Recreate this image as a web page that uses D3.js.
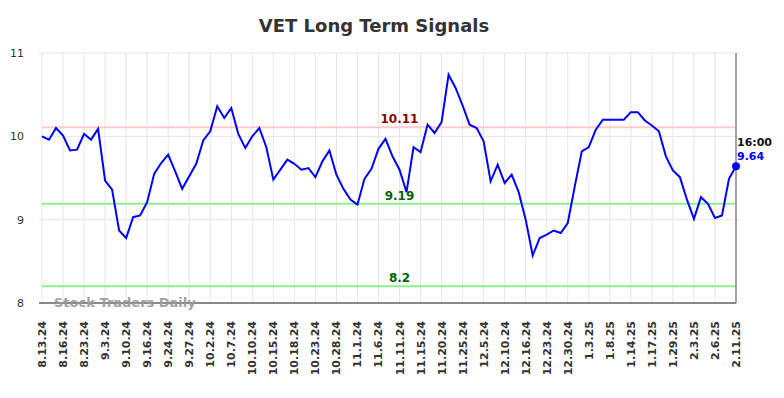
<!DOCTYPE html>
<html lang="en">
<head>
<meta charset="utf-8">
<style>
  body { margin: 0; background: white; }
  svg { font-family: 'DejaVu Sans', sans-serif; }
  .grid line { stroke: #e6e6e6; stroke-width: 1px; }
  .xlab { font-size: 11px; font-weight: bold; fill: #333; }
  .ylab { font-size: 11px; fill: #333; }
</style>
</head>
<body>
<svg width="784" height="398"></svg>
<script src="https://d3js.org/d3.v7.min.js"></script>
<script>
// tick labels, one every third session
const tickLabels = ["8.13.24", "8.16.24", "8.23.24", "9.3.24", "9.10.24", "9.16.24", "9.24.24",
  "9.27.24", "10.2.24", "10.7.24", "10.10.24", "10.15.24", "10.18.24", "10.23.24", "10.28.24",
  "11.1.24", "11.6.24", "11.11.24", "11.15.24", "11.20.24", "11.25.24", "12.5.24", "12.10.24",
  "12.16.24", "12.23.24", "12.30.24", "1.3.25", "1.8.25", "1.14.25", "1.17.25", "1.29.25",
  "2.3.25", "2.6.25", "2.11.25"];

// closing values
const prices = [
  10.00, 9.96, 10.10, 10.01, 9.83, 9.84, 10.03, 9.96, 10.09, 9.47,
  9.36, 8.87, 8.78, 9.03, 9.05, 9.21, 9.55, 9.68, 9.78, 9.58,
  9.37, 9.52, 9.67, 9.95, 10.06, 10.36, 10.22, 10.34, 10.03, 9.86,
  10.00, 10.10, 9.87, 9.48, 9.60, 9.72, 9.67, 9.60, 9.62, 9.51,
  9.70, 9.83, 9.54, 9.37, 9.24, 9.18, 9.49, 9.61, 9.85, 9.97,
  9.76, 9.60, 9.33, 9.87, 9.81, 10.14, 10.04, 10.17, 10.74, 10.58,
  10.37, 10.14, 10.10, 9.94, 9.46, 9.66, 9.44, 9.54, 9.33, 9.00,
  8.57, 8.78, 8.82, 8.87, 8.84, 8.96, 9.40, 9.82, 9.87, 10.08,
  10.20, 10.20, 10.20, 10.20, 10.29, 10.29, 10.19, 10.13, 10.06, 9.76,
  9.59, 9.51, 9.24, 9.01, 9.27, 9.19, 9.02, 9.05, 9.49, 9.64];

const yTicks = [8, 9, 10, 11];
const resistance = [10.11];
const supports = [9.19, 8.2];
const lastTime = "16:00";

const margin = {top: 53, right: 48, bottom: 95, left: 42},
  width = 784 - margin.left - margin.right,
  height = 398 - margin.top - margin.bottom;

const svg = d3.select("svg");

svg.append("text")
  .attr("x", 374).attr("y", 32)
  .attr("text-anchor", "middle")
  .style("font-size", "18px").style("font-weight", "bold").style("fill", "#333")
  .text("VET Long Term Signals");

const g = svg.append("g").attr("transform", `translate(${margin.left},${margin.top})`);

const x = d3.scaleLinear().domain([0, prices.length - 1]).range([0, width]);
const y = d3.scaleLinear().domain([8, 11]).range([height, 0]);
const tickIdx = tickLabels.map((d, i) => i * 3);

// grid
const grid = g.append("g").attr("class", "grid");
grid.selectAll(".v").data(tickIdx).join("line")
  .attr("x1", d => x(d)).attr("x2", d => x(d))
  .attr("y1", 0).attr("y2", height);
grid.selectAll(".h").data(yTicks).join("line")
  .attr("x1", -3).attr("x2", width + 3)
  .attr("y1", d => y(d)).attr("y2", d => y(d));

// y labels
g.selectAll(".ylab").data(yTicks).join("text")
  .attr("class", "ylab")
  .attr("x", -18).attr("y", d => y(d) + 4)
  .attr("text-anchor", "end")
  .text(d => d);

// x labels
g.selectAll(".xlab").data(tickIdx).join("text")
  .attr("class", "xlab")
  .attr("text-anchor", "end")
  .attr("transform", d => `translate(${x(d) + 4},${height + 18}) rotate(-90)`)
  .text((d, i) => tickLabels[i]);

// signal lines
g.selectAll(".res").data(resistance).join("line")
  .attr("x1", 0).attr("x2", width)
  .attr("y1", d => y(d)).attr("y2", d => y(d))
  .attr("stroke", "#ffcccc").attr("stroke-width", 2);
g.selectAll(".sup").data(supports).join("line")
  .attr("x1", 0).attr("x2", width)
  .attr("y1", d => y(d)).attr("y2", d => y(d))
  .attr("stroke", "#90ee90").attr("stroke-width", 2);

const labX = x(51);
g.selectAll(".reslab").data(resistance).join("text")
  .attr("x", labX).attr("y", d => y(d) - 4)
  .attr("text-anchor", "middle")
  .style("font-size", "12px").style("font-weight", "bold").style("fill", "#8b0000")
  .text(d => d);
g.selectAll(".suplab").data(supports).join("text")
  .attr("x", labX).attr("y", d => y(d) - 4)
  .attr("text-anchor", "middle")
  .style("font-size", "12px").style("font-weight", "bold").style("fill", "#006400")
  .text(d => d);

// axes frame
g.append("line").attr("x1", -3).attr("x2", width).attr("y1", height).attr("y2", height)
  .attr("stroke", "#666").attr("stroke-width", 1.5);
g.append("line").attr("x1", width).attr("x2", width).attr("y1", 0).attr("y2", height)
  .attr("stroke", "#888").attr("stroke-width", 1.5);

// watermark
g.append("text")
  .attr("x", 12).attr("y", height + 4)
  .style("font-size", "13px").style("font-weight", "bold").style("fill", "#999")
  .style("opacity", 0.9)
  .text("Stock Traders Daily");

// price line
g.append("path")
  .datum(prices)
  .attr("fill", "none").attr("stroke", "blue").attr("stroke-width", 2)
  .attr("d", d3.line().x((d, i) => x(i)).y(d => y(d)));

const last = prices.length - 1;
g.append("circle")
  .attr("cx", x(last)).attr("cy", y(prices[last])).attr("r", 4)
  .attr("fill", "blue");
g.append("text")
  .attr("x", x(last) + 1).attr("y", y(prices[last]) - 20)
  .style("font-size", "11px").style("font-weight", "bold").style("fill", "#111")
  .text(lastTime);
g.append("text")
  .attr("x", x(last) + 1).attr("y", y(prices[last]) - 6)
  .style("font-size", "11px").style("font-weight", "bold").style("fill", "blue")
  .text(prices[last].toFixed(2));
</script>
</body>
</html>
